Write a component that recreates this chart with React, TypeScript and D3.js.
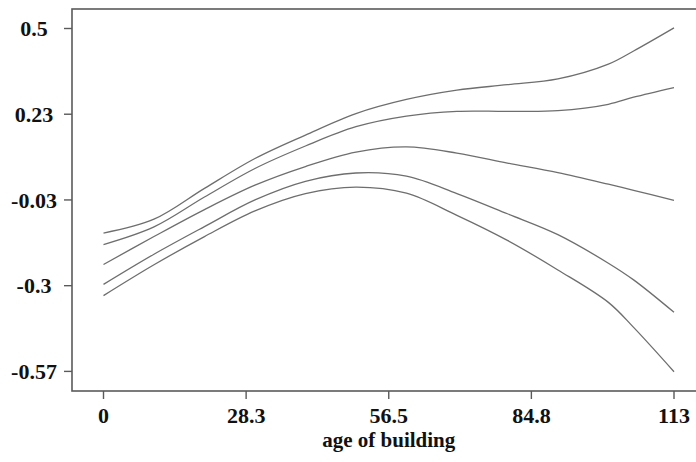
import * as d3 from 'd3';

// age of building (x) and the five smooth curves (estimate and bands)
const ages = [0, 10, 20, 30, 40, 50, 60, 70, 80, 90, 100, 105, 113];
const upper2 = [-0.137, -0.094, 0.002, 0.095, 0.168, 0.235, 0.279, 0.308, 0.325, 0.343, 0.389, 0.43, 0.502];
const upper1 = [-0.173, -0.118, -0.025, 0.064, 0.134, 0.194, 0.227, 0.242, 0.242, 0.244, 0.264, 0.286, 0.316];
const fit = [-0.235, -0.148, -0.064, 0.012, 0.07, 0.115, 0.131, 0.112, 0.081, 0.051, 0.015, -0.004, -0.035];
const lower1 = [-0.297, -0.203, -0.117, -0.034, 0.024, 0.05, 0.04, -0.014, -0.077, -0.142, -0.231, -0.283, -0.384];
const lower2 = [-0.332, -0.236, -0.148, -0.068, -0.014, 0.006, -0.013, -0.082, -0.16, -0.252, -0.353, -0.431, -0.569];

const xTickValues = [0, 28.25, 56.5, 84.75, 113];
const xTickLabels = ['0', '28.3', '56.5', '84.8', '113'];
const yTickValues = [-0.568, -0.301, -0.034, 0.233, 0.5];
const yTickLabels = ['-0.57', '-0.3', '-0.03', '0.23', '0.5'];

const width = 696;
const height = 462;
const frame = { left: 72, top: 9, bottom: 391, right: 700 };
const font = '"Liberation Serif", "Times New Roman", serif';
const axisColor = '#5a5a5a';
const lineColor = '#6e6e6e';

export default function App() {
  const x = d3.scaleLinear().domain([0, 113]).range([103.5, 674]);
  const y = d3.scaleLinear().domain([-0.568, 0.5]).range([371.4, 28.5]);

  const line = d3
    .line<number>()
    .x((_, i) => x(ages[i]))
    .y((d) => y(d))
    .curve(d3.curveCatmullRom.alpha(0.5));

  const series = [upper2, upper1, fit, lower1, lower2];

  return (
    <div style={{ position: 'absolute', left: 0, top: 0 }}>
      <svg width={width} height={height} style={{ display: 'block', background: '#fff' }}>
        <rect
          x={frame.left}
          y={frame.top}
          width={frame.right - frame.left}
          height={frame.bottom - frame.top}
          fill="none"
          stroke={axisColor}
          strokeWidth={1.6}
        />
        {series.map((s, i) => (
          <path key={i} d={line(s) ?? ''} fill="none" stroke={lineColor} strokeWidth={1.3} />
        ))}
        {xTickValues.map((v, i) => (
          <g key={i} transform={`translate(${x(v)},${frame.bottom})`}>
            <line y1={0} y2={8} stroke={axisColor} strokeWidth={1.4} />
            <text
              y={32}
              textAnchor="middle"
              fontFamily={font}
              fontWeight="bold"
              fontSize={22}
              fill="#111"
            >
              {xTickLabels[i]}
            </text>
          </g>
        ))}
        {yTickValues.map((v, i) => (
          <g key={i} transform={`translate(${frame.left},${y(v)})`}>
            <line x1={0} x2={-8} stroke={axisColor} strokeWidth={1.4} />
            <text
              x={-38}
              dy="0.35em"
              textAnchor="middle"
              fontFamily={font}
              fontWeight="bold"
              fontSize={22}
              fill="#111"
            >
              {yTickLabels[i]}
            </text>
          </g>
        ))}
        <text
          x={x(56.5)}
          y={447}
          textAnchor="middle"
          fontFamily={font}
          fontWeight="bold"
          fontSize={21}
          fill="#111"
        >
          age of building
        </text>
      </svg>
    </div>
  );
}
